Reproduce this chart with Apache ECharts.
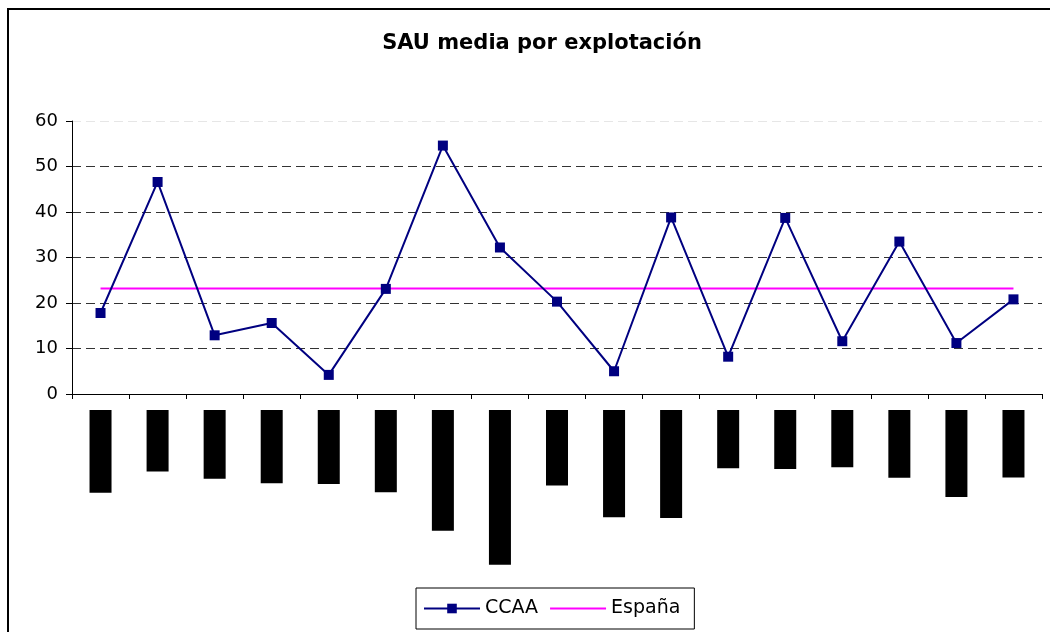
<!DOCTYPE html>
<html>
<head>
<meta charset="utf-8">
<script src="https://cdn.jsdelivr.net/npm/echarts@6/dist/echarts.min.js"></script>
<style>
  html, body { margin: 0; padding: 0; background: #fff; overflow: hidden; }
  #frame { position: absolute; left: 7px; top: 8px; width: 1100px; height: 700px;
           border-left: 2px solid #000; border-top: 2px solid #000; box-sizing: border-box; }
  #chart { position: absolute; left: 0; top: 0; width: 1050px; height: 632px; }
</style>
</head>
<body>
<div id="frame"></div>
<div id="chart"></div>
<script>
// Data
const categories = ['Andalucía', 'Aragón', 'Asturias', 'Baleares', 'Canarias', 'Cantabria',
  'Castilla y León', 'Castilla-La Mancha', 'Cataluña', 'C.Valenciana', 'Extremadura',
  'Galicia', 'Madrid', 'Murcia', 'Navarra', 'País Vasco', 'La Rioja'];
const ccaaValues = [17.8, 46.6, 12.9, 15.6, 4.2, 23.1, 54.6, 32.2, 20.3, 5.0, 38.8,
  8.2, 38.7, 11.6, 33.5, 11.2, 20.8];
const espanaValues = [23.2, 23.2, 23.2, 23.2, 23.2, 23.2, 23.2, 23.2, 23.2, 23.2, 23.2,
  23.2, 23.2, 23.2, 23.2, 23.2, 23.2];
const yTicks = { min: 0, max: 60, interval: 10 };

const FONT = 'DejaVu Sans';
const chart = echarts.init(document.getElementById('chart'), null, { renderer: 'canvas' });
chart.setOption({
  animation: false,
  backgroundColor: 'transparent',
  textStyle: { fontFamily: FONT, color: '#000' },
  title: {
    text: 'SAU media por explotación',
    left: 537, top: 28, textAlign: 'center',
    textStyle: { fontFamily: FONT, fontWeight: 'bold', fontSize: 21, color: '#000' }
  },
  grid: { left: 72, right: 8, top: 121, bottom: 238, containLabel: false, outerBoundsMode: 'none' },
  legend: {
    left: 416, top: 588,
    padding: [11, 14, 11, 7],
    borderColor: '#000', borderWidth: 1,
    itemWidth: 56, itemHeight: 12, itemGap: 11,
    textStyle: { fontFamily: FONT, fontSize: 19, color: '#000' },
    data: [
      { name: 'CCAA' },
      { name: 'España', itemStyle: { opacity: 0 } }
    ]
  },
  xAxis: {
    type: 'category',
    data: categories,
    boundaryGap: true,
    axisLine: { show: true, lineStyle: { color: '#000', width: 1 } },
    axisTick: { show: true, length: 5, lineStyle: { color: '#000' } },
    splitLine: { show: false },
    axisLabel: {
      interval: 0, rotate: 90, margin: 16,
      fontFamily: FONT, fontSize: 16, lineHeight: 22,
      color: '#000', backgroundColor: '#000', padding: [0, 2, 0, 2]
    }
  },
  yAxis: {
    type: 'value',
    min: yTicks.min, max: yTicks.max, interval: yTicks.interval,
    axisLine: { show: true, lineStyle: { color: '#000', width: 1 } },
    axisTick: { show: true, length: 6, lineStyle: { color: '#000' } },
    axisLabel: { margin: 14, fontFamily: FONT, fontSize: 18, color: '#000' },
    splitLine: {
      show: true,
      lineStyle: {
        color: ['#333', '#333', '#333', '#333', '#333', '#333', '#e6e6e6'],
        type: [9, 5], width: 1
      }
    }
  },
  series: [
    {
      name: 'CCAA', type: 'line', data: ccaaValues,
      symbol: 'rect', symbolSize: 10,
      lineStyle: { color: '#000080', width: 2 },
      itemStyle: { color: '#000080' },
      z: 3
    },
    {
      name: 'España', type: 'line', data: espanaValues,
      symbol: 'none', showSymbol: false,
      lineStyle: { color: '#ff00ff', width: 2 },
      itemStyle: { color: '#ff00ff' },
      z: 2
    }
  ]
});
</script>
</body>
</html>
